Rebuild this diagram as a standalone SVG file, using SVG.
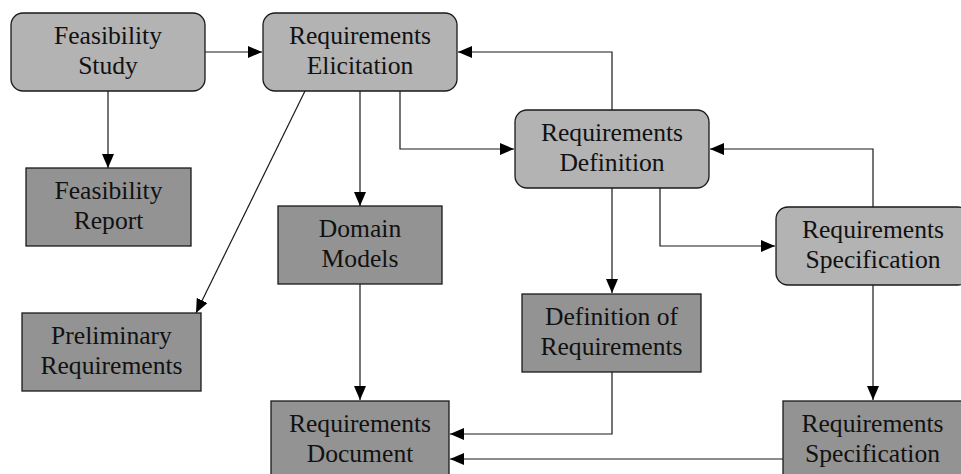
<svg xmlns="http://www.w3.org/2000/svg" width="961" height="474" viewBox="0 0 961 474">
<defs>
<style>
.proc{fill:#b3b3b3;stroke:#1a1a1a;stroke-width:1.3}
.doc{fill:#939393;stroke:#1a1a1a;stroke-width:1.3}
.t{font-family:"Liberation Serif","Times New Roman",serif;font-size:25.6px;fill:#111;text-anchor:middle}
.c{fill:none;stroke:#1a1a1a;stroke-width:1.2}
</style>
<marker id="ah" markerUnits="userSpaceOnUse" markerWidth="14" markerHeight="12" viewBox="0 0 14 12" refX="14" refY="6" orient="auto">
<path d="M0,0 L14,6 L0,12 Z" fill="#000"/>
</marker>
</defs>
<rect width="961" height="474" fill="#fff"/>
<g id="connectors">
<path class="c" d="M205,52 H262" marker-end="url(#ah)"/>
<path class="c" d="M108,91 V168" marker-end="url(#ah)"/>
<path class="c" d="M360,91 V206" marker-end="url(#ah)"/>
<path class="c" d="M305,91 L196,313" marker-end="url(#ah)"/>
<path class="c" d="M400,91 V149 H514" marker-end="url(#ah)"/>
<path class="c" d="M612,110 V52 H458" marker-end="url(#ah)"/>
<path class="c" d="M612,188 V293" marker-end="url(#ah)"/>
<path class="c" d="M660,188 V246 H775" marker-end="url(#ah)"/>
<path class="c" d="M873,207 V149 H710" marker-end="url(#ah)"/>
<path class="c" d="M873,285 V400" marker-end="url(#ah)"/>
<path class="c" d="M360,284 V400" marker-end="url(#ah)"/>
<path class="c" d="M612,372 V434 H450" marker-end="url(#ah)"/>
<path class="c" d="M783,459 H450" marker-end="url(#ah)"/>
</g>
<g id="feasibility-study">
<rect class="proc" x="11" y="13" width="194" height="78" rx="12"/>
<text class="t" x="108" y="44">Feasibility</text>
<text class="t" x="108" y="74">Study</text>
</g>
<g id="requirements-elicitation">
<rect class="proc" x="263" y="13" width="194" height="78" rx="12"/>
<text class="t" x="360" y="44">Requirements</text>
<text class="t" x="360" y="74">Elicitation</text>
</g>
<g id="feasibility-report">
<rect class="doc" x="26" y="168" width="165" height="78"/>
<text class="t" x="108.5" y="199">Feasibility</text>
<text class="t" x="108.5" y="229">Report</text>
</g>
<g id="domain-models">
<rect class="doc" x="278" y="206" width="164" height="78"/>
<text class="t" x="360" y="237">Domain</text>
<text class="t" x="360" y="267">Models</text>
</g>
<g id="preliminary-requirements">
<rect class="doc" x="22" y="313" width="179" height="78"/>
<text class="t" x="111.5" y="344">Preliminary</text>
<text class="t" x="111.5" y="374">Requirements</text>
</g>
<g id="requirements-definition">
<rect class="proc" x="515" y="110" width="194" height="78" rx="12"/>
<text class="t" x="612" y="141">Requirements</text>
<text class="t" x="612" y="171">Definition</text>
</g>
<g id="definition-of-requirements">
<rect class="doc" x="522" y="294" width="179" height="78"/>
<text class="t" x="611.5" y="325">Definition of</text>
<text class="t" x="611.5" y="355">Requirements</text>
</g>
<g id="requirements-specification">
<rect class="proc" x="776" y="207" width="194" height="78" rx="12"/>
<text class="t" x="873" y="238">Requirements</text>
<text class="t" x="873" y="268">Specification</text>
</g>
<g id="requirements-document">
<rect class="doc" x="271" y="401" width="178" height="78"/>
<text class="t" x="360" y="432">Requirements</text>
<text class="t" x="360" y="462">Document</text>
</g>
<g id="requirements-specification-doc">
<rect class="doc" x="783" y="401" width="179" height="78"/>
<text class="t" x="872.5" y="432">Requirements</text>
<text class="t" x="872.5" y="462">Specification</text>
</g>
</svg>
